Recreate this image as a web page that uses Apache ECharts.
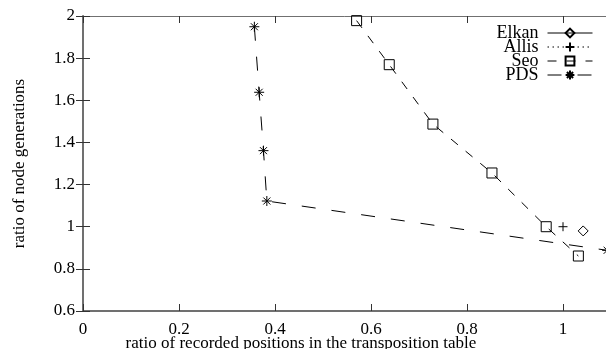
<!DOCTYPE html>
<html><head><meta charset="utf-8">
<script src="https://cdn.jsdelivr.net/npm/echarts@6/dist/echarts.min.js"></script>
<style>html,body{margin:0;padding:0;background:#fff}#c{width:606px;height:349px}</style>
</head><body><div id="c"></div>
<script>
const xTicks = [0, 0.2, 0.4, 0.6, 0.8, 1];
const yTicks = [0.6, 0.8, 1, 1.2, 1.4, 1.6, 1.8, 2];
const seriesNames = ['Elkan', 'Allis', 'Seo', 'PDS'];
const elkanX = [1.042], elkanY = [0.980];
const allisX = [1.0], allisY = [1.0];
const seoX = [0.570, 0.638, 0.729, 0.852, 0.965, 1.032];
const seoY = [1.978, 1.769, 1.487, 1.255, 1.000, 0.861];
const pdsX = [0.357, 0.367, 0.376, 0.383, 1.092];
const pdsY = [1.949, 1.638, 1.361, 1.122, 0.888];

const zip = (a, b) => a.map((v, i) => [v, b[i]]);
const FONT = 'Liberation Serif';
const AX = '#707070';
const star = 'path://M5 0L5 10M0 5L10 5M1.5 1.5L8.5 8.5M8.5 1.5L1.5 8.5';
const plus = 'path://M5 0L5 10M0 5L10 5';

const chart = echarts.init(document.getElementById('c'));
function mk(name, xs, ys, symbol, size, dash) {
  return {
    name, type: 'line', data: zip(xs, ys), symbol, symbolSize: size,
    showAllSymbol: true,
    lineStyle: { color: '#000', width: 1, type: dash },
    itemStyle: { color: 'rgba(0,0,0,0)', borderColor: '#000', borderWidth: 1 },
    emphasis: { disabled: true }, animation: false, z: 3
  };
}
const legendTops = [24, 38, 52, 66];
chart.setOption({
  animation: false,
  grid: { left: 83, top: 16, width: 528, height: 295, containLabel: false, outerBoundsMode: 'none' },
  legend: seriesNames.map((n, i) => ({
    data: [n], right: 13, top: legendTops[i], align: 'right', orient: 'horizontal',
    itemWidth: 45, itemHeight: 11, selectedMode: false, padding: 0,
    lineStyle: { width: 1 },
    textStyle: { fontFamily: FONT, fontSize: 18, color: '#000', padding: [0, 4, 0, 0] }
  })),
  xAxis: [{
    type: 'value', min: 0, max: 1.1, interval: 0.2,
    name: 'ratio of recorded positions in the transposition table',
    nameLocation: 'middle', nameGap: 24, nameMoveOverlap: false,
    nameTextStyle: { fontFamily: FONT, fontSize: 17, color: '#000', padding: [0, 92, 0, 0] },
    axisLine: { show: true, lineStyle: { color: AX, width: 2 } },
    axisTick: { show: true, inside: true, length: 7, lineStyle: { color: '#333', width: 1 } },
    axisLabel: { fontFamily: FONT, fontSize: 17, color: '#000', margin: 10, showMaxLabel: false },
    splitLine: { show: false }
  }, {
    type: 'value', min: 0, max: 1.1, interval: 0.2, position: 'top',
    axisLine: { show: true, lineStyle: { color: AX, width: 1 } },
    axisTick: { show: true, inside: true, length: 7, lineStyle: { color: '#333', width: 1 } },
    axisLabel: { show: false }, splitLine: { show: false }
  }],
  yAxis: [{
    type: 'value', min: 0.6, max: 2, interval: 0.2,
    name: 'ratio of node generations', nameLocation: 'middle', nameGap: 55, nameMoveOverlap: false,
    nameTextStyle: { fontFamily: FONT, fontSize: 17, color: '#000' },
    axisLine: { show: true, lineStyle: { color: AX, width: 2 } },
    axisTick: { show: true, inside: true, length: 7, lineStyle: { color: '#333', width: 1 } },
    axisLabel: { fontFamily: FONT, fontSize: 17, color: '#000', margin: 8 },
    splitLine: { show: false }
  }, {
    type: 'value', min: 0.6, max: 2, interval: 0.2, position: 'right',
    axisLine: { show: true, lineStyle: { color: AX, width: 1 } },
    axisTick: { show: true, inside: true, length: 7, lineStyle: { color: '#333', width: 1 } },
    axisLabel: { show: false }, splitLine: { show: false }
  }],
  series: [
    mk('Elkan', elkanX, elkanY, 'diamond', 10, 'solid'),
    mk('Allis', allisX, allisY, plus, 9, [1.5, 3.5]),
    mk('Seo', seoX, seoY, 'rect', 10, [9, 10]),
    mk('PDS', pdsX, pdsY, star, 10, [14, 16])
  ]
});
</script></body></html>
